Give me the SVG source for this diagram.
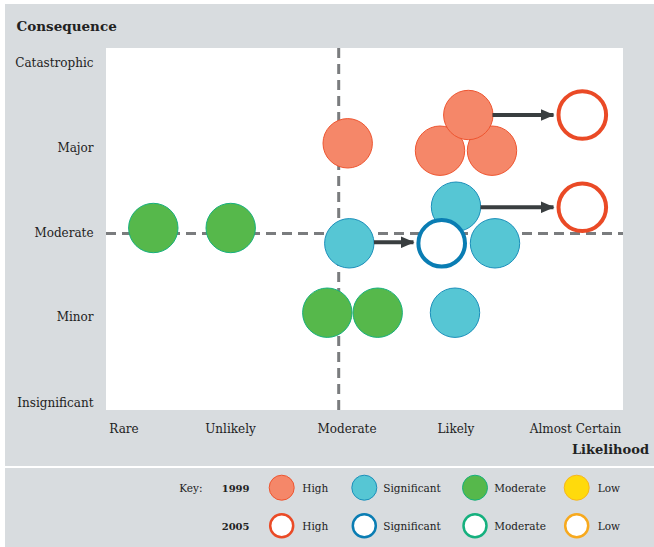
<svg xmlns="http://www.w3.org/2000/svg" width="654" height="547" viewBox="0 0 654 547">
<style>
text{font-family:"DejaVu Serif","Liberation Serif",serif;fill:#222}
.ax{font-size:12px}
.axr{font-size:12px;text-anchor:end}
.axc{font-size:12px;text-anchor:middle}
.ttl{font-size:13.5px;font-weight:bold}
.lg{font-size:10.5px}
.lgb{font-size:10px;font-weight:bold}
.grid{stroke:#7a7c7e;stroke-width:3;stroke-dasharray:10 6;fill:none}
.hi{fill:#f58769;stroke:#ee5530;stroke-width:1}
.sig{fill:#56c6d4;stroke:#1b8fba;stroke-width:1}
.mod{fill:#56b84b;stroke:#16b07e;stroke-width:1}
.low{fill:#ffda0c;stroke:#f7b51e;stroke-width:1}
.hiO{fill:#fff;stroke:#ea4a26;stroke-width:4}
.sigO{fill:#fff;stroke:#0a7db3;stroke-width:4}
.hiL{fill:#fff;stroke:#ea4a26;stroke-width:2.5}
.sigL{fill:#fff;stroke:#0a7db3;stroke-width:2.5}
.modL{fill:#fff;stroke:#15b07e;stroke-width:2.5}
.lowL{fill:#fff;stroke:#f7a91e;stroke-width:2.5}
.arr{stroke:#393e40;stroke-width:4;fill:none;marker-end:url(#ah)}
</style>
<defs>
<marker id="ah" markerUnits="userSpaceOnUse" markerWidth="14" markerHeight="12" refX="13" refY="6" orient="auto">
<path d="M0,0 L14,6 L0,12 Z" fill="#393e40"/>
</marker>
</defs>
<rect x="5" y="4" width="649" height="543" fill="#d8dcdf"/>
<rect x="5" y="466" width="649" height="2" fill="#fff"/>
<rect x="106" y="48" width="517" height="362" fill="#fff"/>
<g id="grid">
<line class="grid" x1="338.7" y1="48" x2="338.7" y2="410"/>
<line class="grid" x1="106" y1="233.5" x2="623" y2="233.5"/>
</g>
<g id="axis-labels">
<text class="ttl" x="16.5" y="30.5">Consequence</text>
<text class="axr" x="93.5" y="66.5">Catastrophic</text>
<text class="axr" x="93.5" y="151.5">Major</text>
<text class="axr" x="93.5" y="237">Moderate</text>
<text class="axr" x="93.5" y="321">Minor</text>
<text class="axr" x="93.5" y="406.5">Insignificant</text>
<text class="axc" x="124" y="433">Rare</text>
<text class="axc" x="230.5" y="433">Unlikely</text>
<text class="axc" x="347" y="433">Moderate</text>
<text class="axc" x="456" y="433">Likely</text>
<text class="axc" x="575.5" y="433">Almost Certain</text>
<text class="ttl" x="649" y="454" text-anchor="end" style="font-size:13px">Likelihood</text>
</g>
<g id="n-mod-rare"><circle class="mod" cx="153.3" cy="228" r="24.7"/></g>
<g id="n-mod-unlikely"><circle class="mod" cx="230.7" cy="228" r="24.7"/></g>
<g id="n-mod-minor-1"><circle class="mod" cx="327.3" cy="312.7" r="24.7"/></g>
<g id="n-mod-minor-2"><circle class="mod" cx="377.7" cy="312.7" r="24.7"/></g>
<g id="n-sig-minor-likely"><circle class="sig" cx="455" cy="312.7" r="24.7"/></g>
<g id="n-hi-major-moderate"><circle class="hi" cx="347.7" cy="143.3" r="24.7"/></g>
<g id="n-hi-major-l1"><circle class="hi" cx="440" cy="150.7" r="24.7"/></g>
<g id="n-hi-major-l2"><circle class="hi" cx="492" cy="150.7" r="24.7"/></g>
<g id="n-hi-major-l3"><circle class="hi" cx="468.3" cy="115" r="24.7"/></g>
<g id="n-hi-2005-a"><circle class="hiO" cx="582.3" cy="115" r="23.8"/></g>
<g id="n-hi-2005-b"><circle class="hiO" cx="582.3" cy="207.3" r="23.8"/></g>
<g id="n-sig-mod-moderate"><circle class="sig" cx="349.3" cy="243.3" r="24.7"/></g>
<g id="n-sig-mod-likely-top"><circle class="sig" cx="456" cy="206.7" r="24.7"/></g>
<g id="n-sig-2005"><circle class="sigO" cx="441.7" cy="243.3" r="23.3"/></g>
<g id="n-sig-mod-likely-right"><circle class="sig" cx="495" cy="243.3" r="24.7"/></g>
<g id="connectors">
<line class="arr" x1="492.5" y1="115" x2="553.5" y2="115"/>
<line class="arr" x1="480.5" y1="207.3" x2="553.5" y2="207.3"/>
<line class="arr" x1="374" y1="242.3" x2="413.5" y2="242.3"/>
</g>
<g id="legend">
<text class="lg" x="179.3" y="491.7">Key:</text>
<text class="lgb" x="221.7" y="491.7">1999</text>
<text class="lgb" x="221.7" y="530">2005</text>
<circle class="hi" cx="281.7" cy="487.7" r="12.5"/>
<circle class="sig" cx="364.3" cy="487.7" r="12.5"/>
<circle class="mod" cx="475" cy="487.7" r="12.5"/>
<circle class="low" cx="576.7" cy="487.7" r="12.5"/>
<circle class="hiL" cx="281.7" cy="525.7" r="11.5"/>
<circle class="sigL" cx="364.3" cy="525.7" r="11.5"/>
<circle class="modL" cx="475" cy="525.7" r="11.5"/>
<circle class="lowL" cx="576.7" cy="525.7" r="11.5"/>
<text class="lg" x="302.3" y="491.7">High</text>
<text class="lg" x="383.3" y="491.7">Significant</text>
<text class="lg" x="494.3" y="491.7">Moderate</text>
<text class="lg" x="597.7" y="491.7">Low</text>
<text class="lg" x="302.3" y="530">High</text>
<text class="lg" x="383.3" y="530">Significant</text>
<text class="lg" x="494.3" y="530">Moderate</text>
<text class="lg" x="597.7" y="530">Low</text>
</g>
</svg>
